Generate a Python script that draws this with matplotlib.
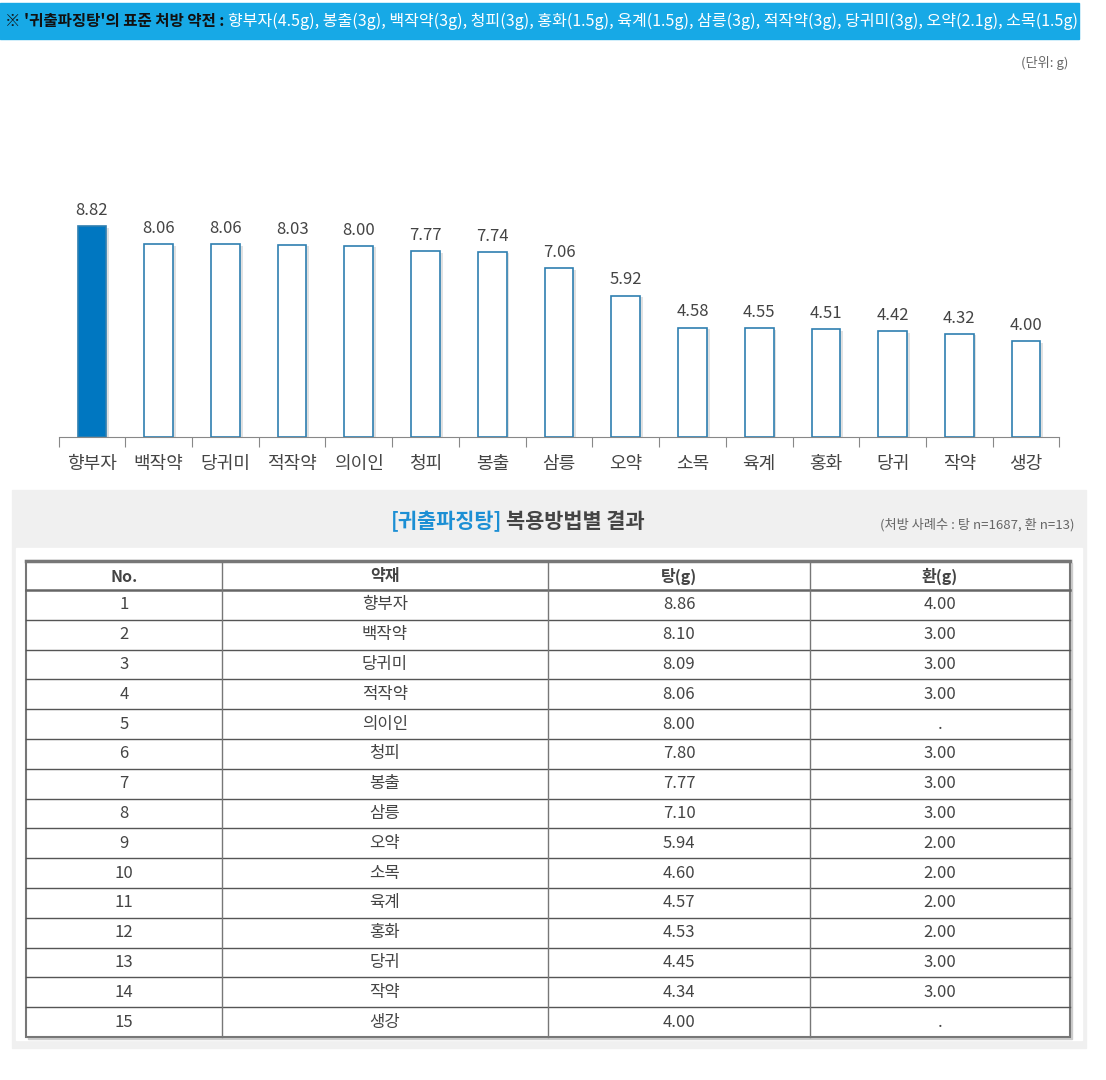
import matplotlib
matplotlib.use("Agg")
import matplotlib.pyplot as plt
import matplotlib.patheffects as pe
import matplotlib.transforms as mtrans
from matplotlib.patches import Rectangle

plt.rcParams['font.family'] = ['Noto Sans CJK KR', 'DejaVu Sans']

# data
herbs = ["향부자", "백작약", "당귀미", "적작약", "의이인", "청피", "봉출", "삼릉",
         "오약", "소목", "육계", "홍화", "당귀", "작약", "생강"]
bar_vals = [8.82, 8.06, 8.06, 8.03, 8.00, 7.77, 7.74, 7.06, 5.92, 4.58, 4.55, 4.51, 4.42, 4.32, 4.00]
tang_vals = [8.86, 8.10, 8.09, 8.06, 8.00, 7.80, 7.77, 7.10, 5.94, 4.60, 4.57, 4.53, 4.45, 4.34, 4.00]
hwan_vals = [4.00, 3.00, 3.00, 3.00, None, 3.00, 3.00, 3.00, 2.00, 2.00, 2.00, 2.00, 3.00, 3.00, None]
col_headers = ["No.", "약재", "탕(g)", "환(g)"]
banner_head = "※ '귀출파징탕'의 표준 처방 약전 : "
banner_body = ("향부자(4.5g), 봉출(3g), 백작약(3g), 청피(3g), 홍화(1.5g), 육계(1.5g), "
               "삼릉(3g), 적작약(3g), 당귀미(3g), 오약(2.1g), 소목(1.5g)")

W, H = 1106, 1080
fig = plt.figure(figsize=(W / 100, H / 100), dpi=100)

# background axes in pixel coordinates (y down)
bg = fig.add_axes([0, 0, 1, 1])
bg.set_xlim(0, W)
bg.set_ylim(H, 0)
bg.axis("off")
px_x = mtrans.blended_transform_factory(mtrans.IdentityTransform(), bg.transData)

# banner
bg.add_patch(Rectangle((0, 3), 1079, 36, color="#17A9E6", zorder=1))
t = bg.text(5, 21, banner_head, fontsize=11.2, fontweight="bold", color="#111111",
            va="center", ha="left", zorder=2)
fig.canvas.draw()
x_end = t.get_window_extent().x1
bg.text(x_end, 21, banner_body, fontsize=11.5, color="white", va="center", ha="left",
        zorder=2, transform=px_x)

bg.text(1068, 63, "(단위: g)", fontsize=9.5, color="#666666", ha="right", va="center")

# bar chart
ax_l, ax_r, ax_b, ax_t = 58.6, 1059.4, 437, 190
ax = fig.add_axes([ax_l / W, 1 - ax_b / H, (ax_r - ax_l) / W, (ax_b - ax_t) / H])
ax.set_xlim(-0.5, len(herbs) - 0.5)
ax.set_ylim(0, (ax_b - ax_t) / 23.9)
x = range(len(herbs))
colors = ["#0077C1"] + ["white"] * (len(herbs) - 1)
bars = ax.bar(x, bar_vals, width=0.43, color=colors, edgecolor="#2F7FB0", linewidth=1.2, zorder=3)
for b in bars:
    b.set_path_effects([pe.SimplePatchShadow(offset=(2, -1), shadow_rgbFace="#AAAAAA", alpha=0.35),
                        pe.Normal()])
for xi, v in zip(x, bar_vals):
    ax.text(xi, v + 0.3, f"{v:.2f}", ha="center", va="bottom", fontsize=12, color="#444444")
for s in ["top", "right", "left"]:
    ax.spines[s].set_visible(False)
ax.spines["bottom"].set_color("#888888")
ax.set_yticks([])
ax.set_xticks([i - 0.5 for i in range(len(herbs) + 1)])
ax.set_xticklabels([])
ax.tick_params(axis="x", length=7, color="#888888", direction="out")
for xi, h in zip(x, herbs):
    ax.text(xi, -0.75, h, ha="center", va="top", fontsize=13, color="#444444", clip_on=False)

# gray panel
bg.add_patch(Rectangle((12, 490), 1074, 558, color="#F0F0F0", zorder=1))
bg.add_patch(Rectangle((16, 548), 1066, 492, color="white", zorder=1))
tt = bg.text(391, 522, "[귀출파징탕]", fontsize=15, fontweight="bold", color="#1C8FD4",
             ha="left", va="center", zorder=2)
fig.canvas.draw()
bg.text(tt.get_window_extent().x1 + 4, 522, "복용방법별 결과", fontsize=15, fontweight="bold",
        color="#444444", ha="left", va="center", zorder=2, transform=px_x)
bg.text(1075, 525, "(처방 사례수 : 탕 n=1687, 환 n=13)", fontsize=9.5, color="#666666",
        ha="right", va="center", zorder=2)

# table
cols = [26, 222, 548, 810, 1070]
top, head_b = 561, 590
row_h = 29.8
n = len(herbs)
bottom = head_b + row_h * n
bg.add_patch(Rectangle((cols[0] + 2, top + 2), cols[-1] - cols[0], bottom - top,
                       color="#CCCCCC", zorder=2))
bg.add_patch(Rectangle((cols[0], top), cols[-1] - cols[0], bottom - top,
                       facecolor="white", edgecolor="#777777", linewidth=1.5, zorder=3))
bg.plot([cols[0], cols[-1]], [top, top], color="#777777", lw=2.5, zorder=4)
bg.plot([cols[0], cols[-1]], [head_b, head_b], color="#666666", lw=1.8, zorder=4)
for i in range(1, n):
    y = head_b + row_h * i
    bg.plot([cols[0], cols[-1]], [y, y], color="#555555", lw=1.0, zorder=4)
for c in cols[1:-1]:
    bg.plot([c, c], [top, bottom], color="#777777", lw=1.0, zorder=4)

centers = [(cols[i] + cols[i + 1]) / 2 for i in range(4)]
for cx, h in zip(centers, col_headers):
    bg.text(cx, (top + head_b) / 2 + 1, h, ha="center", va="center", fontsize=11.5,
            fontweight="bold", color="#444444", zorder=5)
for i in range(n):
    cy = head_b + row_h * (i + 0.5)
    hv = "." if hwan_vals[i] is None else f"{hwan_vals[i]:.2f}"
    cells = [str(i + 1), herbs[i], f"{tang_vals[i]:.2f}", hv]
    for cx, s in zip(centers, cells):
        bg.text(cx, cy, s, ha="center", va="center", fontsize=12, color="#444444", zorder=5)

fig.savefig("out.png", dpi=100)
